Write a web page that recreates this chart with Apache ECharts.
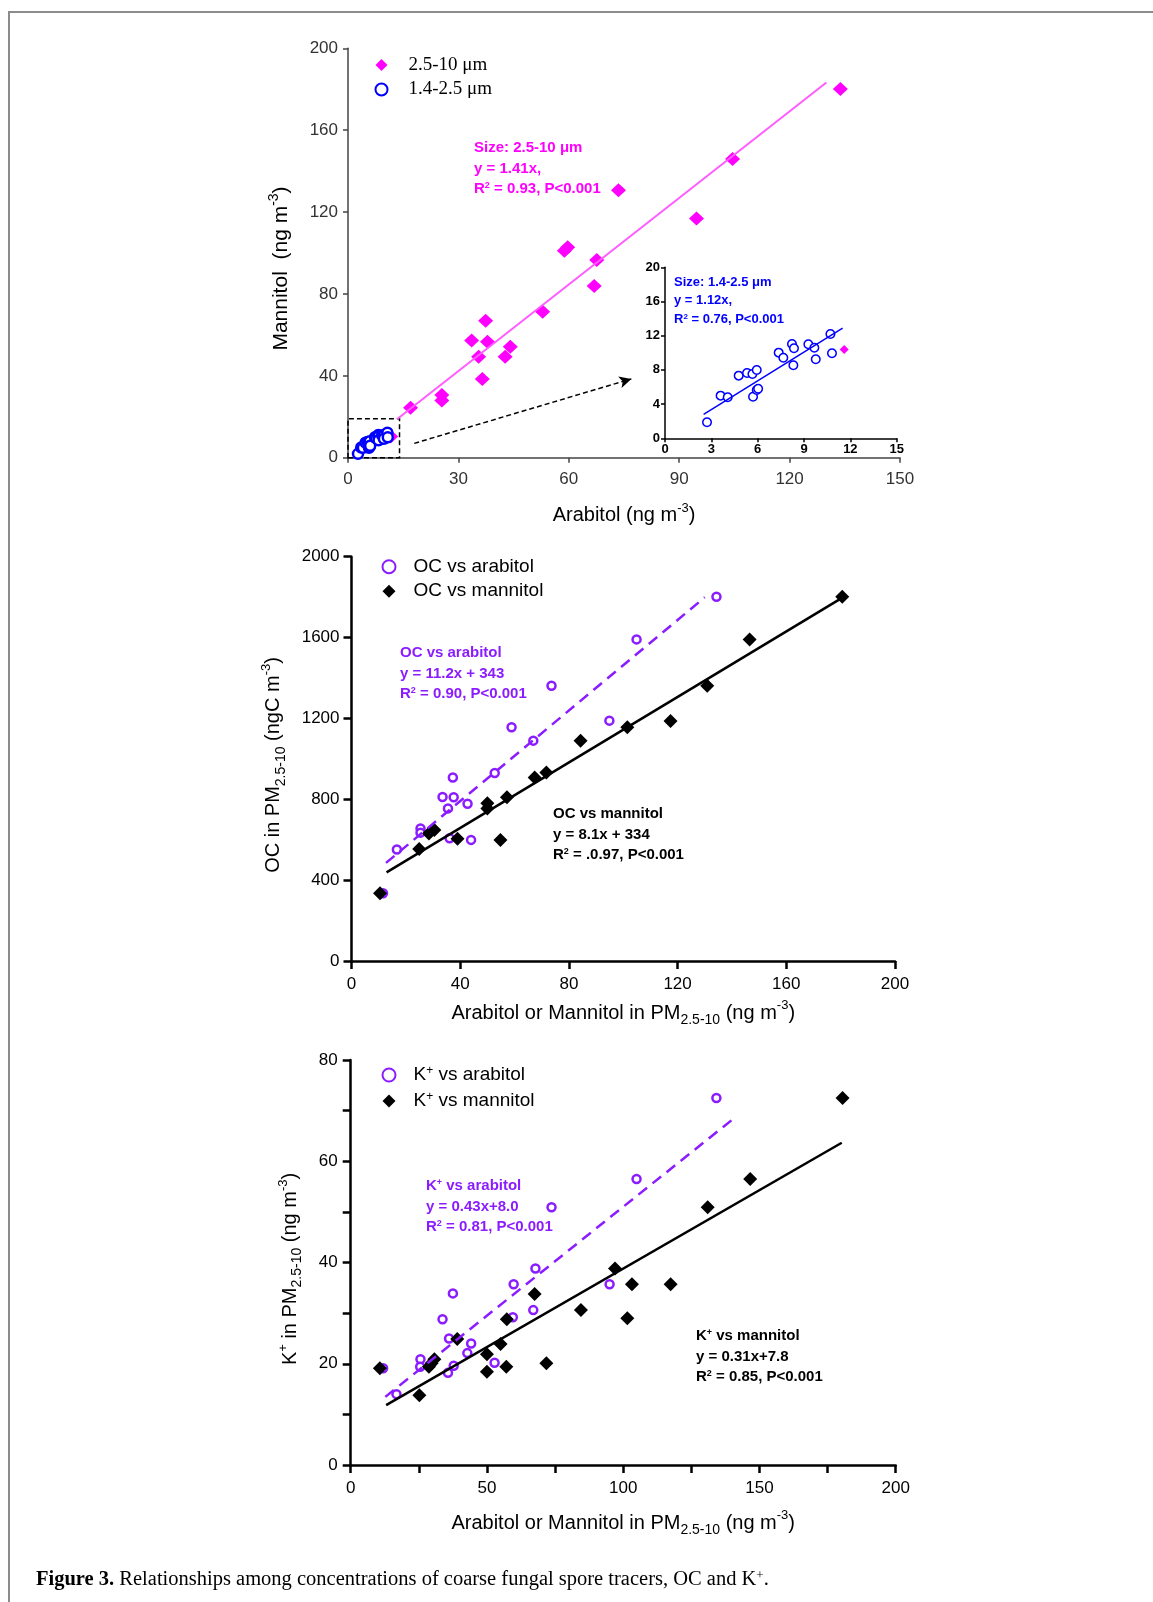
<!DOCTYPE html>
<html>
<head>
<meta charset="utf-8">
<title>Figure 3</title>
<script src="https://cdn.jsdelivr.net/npm/echarts@6/dist/echarts.min.js"></script>
<style>
  html, body { margin: 0; padding: 0; background: #fff; }
  #chart { width: 1153px; height: 1602px; }
</style>
</head>
<body>
<div id="chart"></div>
<script>
// ---- panel 1: arabitol vs mannitol by size ----
var coarseArabitol = [11.6, 17.0, 25.5, 25.5, 33.6, 35.5, 36.5, 37.4, 37.9, 42.7, 44.1, 52.9, 58.8, 59.7, 66.9, 67.6, 73.5, 94.7, 104.5, 133.8];
var coarseMannitol = [10.4, 24.4, 30.6, 27.9, 57.2, 49.3, 38.4, 66.9, 56.7, 49.3, 54.2, 71.3, 101.1, 102.8, 83.9, 96.6, 130.6, 116.9, 145.9, 180.1];
var fineArabitol = [2.72, 3.60, 4.06, 4.77, 5.31, 5.66, 5.94, 5.70, 5.94, 6.03, 7.36, 7.66, 8.22, 8.35, 8.31, 9.28, 9.67, 9.76, 10.71, 10.81];
var fineMannitol = [1.87, 4.99, 4.80, 7.33, 7.64, 7.52, 7.99, 4.87, 5.65, 5.80, 10.02, 9.43, 11.03, 10.53, 8.54, 10.99, 10.60, 9.24, 12.20, 9.94];

// ---- panel 2: OC in PM2.5-10 ----
var ocArabX = [11.6, 16.7, 25.4, 25.4, 36.1, 33.5, 35.5, 37.3, 37.6, 42.7, 44.0, 52.7, 58.9, 66.9, 73.6, 94.9, 104.9, 134.3];
var ocArabY = [335, 552, 656, 635, 607, 811, 755, 908, 810, 778, 599, 930, 1156, 1090, 1362, 1189, 1591, 1802];
var ocMannX = [10.5, 24.9, 28.5, 30.5, 39.0, 50.0, 50.0, 54.8, 57.2, 67.4, 71.7, 84.3, 101.5, 117.4, 130.9, 146.5, 180.6];
var ocMannY = [335, 554, 631, 648, 605, 780, 755, 599, 810, 908, 932, 1090, 1156, 1187, 1362, 1591, 1802];

// ---- panel 3: K+ in PM2.5-10 ----
var kArabX = [11.9, 16.8, 25.6, 25.5, 33.7, 36.1, 35.7, 37.5, 37.8, 42.8, 44.2, 52.8, 59.5, 59.8, 67.0, 67.8, 73.7, 95.0, 104.9, 134.2];
var kArabY = [19.1, 14.0, 20.9, 19.4, 28.8, 25.0, 18.2, 33.9, 19.6, 22.1, 24.0, 20.2, 29.2, 35.7, 30.6, 38.8, 50.9, 35.7, 56.5, 72.5];
var kMannX = [10.7, 25.2, 28.7, 29.7, 30.7, 39.1, 50.0, 50.0, 55.0, 57.3, 57.1, 67.5, 71.8, 84.5, 97.0, 101.5, 103.2, 117.4, 131.0, 146.6, 180.5];
var kMannY = [19.1, 13.8, 19.4, 20.1, 20.9, 24.9, 21.9, 18.4, 23.9, 28.8, 19.4, 33.8, 20.1, 30.6, 38.8, 29.0, 35.7, 35.7, 50.9, 56.5, 72.5];

// regression fits: [slope, intercept, x from, x to]
var fitCoarse = [1.41, 0, 13.3, 130];
var fitFine = [1.12, 0, 2.5, 11.5];
var fitOcArab = [11.2, 343, 12.7, 130];
var fitOcMann = [8.1, 334, 12.9, 180.8];
var fitKArab = [0.43, 8.0, 12.7, 140.4];
var fitKMann = [0.31, 7.8, 13.0, 180.2];

// zoomed region of panel 1 (data units) and the arrow pointing to the inset
var zoomBox = [[0, 0], [14, 19]];
var zoomArrow = [[18, 7], [77, 38.5]];

var ARIAL = "Arial, 'Liberation Sans', sans-serif";
var TIMES = "'Times New Roman', 'Liberation Serif', serif";
var MAGENTA = '#ff00ff';
var BLUE = '#0000ff';
var PURPLE = '#8b1cff';

function pairs(xs, ys) {
  return xs.map(function (x, i) { return [x, ys[i]]; });
}
function fitLine(f) {
  return [[f[2], f[0] * f[2] + f[1]], [f[3], f[0] * f[3] + f[1]]];
}

// rich styles for titles with super/subscripts (key = colour prop name)
function titleRich(size, colorKey) {
  var lh = Math.round(size * 1.4);
  function st(fs, l, va) {
    var s = { fontFamily: ARIAL, fontSize: fs, lineHeight: l };
    s[colorKey] = '#000';
    if (va) s.verticalAlign = va;
    return s;
  }
  return {
    t: st(size, lh),
    sup: st(Math.round(size * 0.65), Math.round(size * 0.55), 'top'),
    sub: st(Math.round(size * 0.7), Math.round(size * 0.65), 'bottom')
  };
}

function axis(grid, min, max, interval, o) {
  o = o || {};
  var color = o.color || '#000';
  return {
    type: 'value', gridIndex: grid, min: min, max: max, interval: interval,
    name: o.name || '', nameLocation: 'middle', nameGap: o.nameGap || 40,
    nameTextStyle: { rich: titleRich(20, 'color') },
    axisLine: { show: true, onZero: false, lineStyle: { color: color, width: o.lw || 2.5 } },
    axisTick: { show: true, inside: false, length: o.tick || 8, lineStyle: { color: color, width: o.lw || 2.5 } },
    minorTick: { show: !!o.minor, splitNumber: 2, length: o.tick || 8, lineStyle: { color: color, width: o.lw || 2.5 } },
    axisLabel: {
      color: o.labelColor || '#000', fontFamily: ARIAL, fontSize: o.fs || 17,
      fontWeight: o.bold ? 'bold' : 'normal', margin: o.margin || 12,
      formatter: function (v) { return String(v); }
    },
    splitLine: { show: false }
  };
}

// vertical axis title drawn centred on (x, y)
function yTitle(x, y, text, size) {
  return {
    type: 'text', x: x, y: y, rotation: Math.PI / 2, silent: true,
    style: {
      text: text, font: size + 'px ' + ARIAL, fill: '#000',
      align: 'center', verticalAlign: 'middle', rich: titleRich(size, 'fill')
    }
  };
}

function note(x, y, lines, color, size) {
  return lines.map(function (s, i) {
    return {
      type: 'text', x: x, y: y + i * (size + 5.5), silent: true,
      style: {
        text: s, fill: color, font: 'bold ' + size + 'px ' + ARIAL, verticalAlign: 'middle',
        rich: {
          s: { fontSize: Math.round(size * 0.6), fontWeight: 'bold', fontFamily: ARIAL, fill: color, lineHeight: 8, verticalAlign: 'top' }
        }
      }
    };
  });
}

var chart = echarts.init(document.getElementById('chart'));

var graphics = [
  { type: 'line', silent: true, shape: { x1: 9, y1: 12, x2: 9, y2: 1602 }, style: { stroke: '#8c8c8c', lineWidth: 2 } },
  { type: 'line', silent: true, shape: { x1: 8, y1: 12, x2: 1153, y2: 12 }, style: { stroke: '#8c8c8c', lineWidth: 2 } },
  yTitle(281.5, 268.5, '{t|Mannitol  (ng m}{sup|-3}{t|)}', 21),
  yTitle(273.7, 765, '{t|OC in PM}{sub|2.5-10}{t| (ngC m}{sup|-3}{t|)}', 20),
  yTitle(290.5, 1269, '{t|K}{sup|+}{t| in PM}{sub|2.5-10}{t| (ng m}{sup|-3}{t|)}', 20),
  {
    type: 'text', x: 36, y: 1580, silent: true,
    style: {
      text: '{b|Figure 3.} Relationships among concentrations of coarse fungal spore tracers, OC and K{s|+}.',
      fill: '#000', font: '20.5px ' + TIMES, verticalAlign: 'middle',
      rich: {
        b: { fontWeight: 'bold', fontSize: 20.5, fontFamily: TIMES, fill: '#000' },
        s: { fontSize: 13, fontFamily: TIMES, fill: '#000', lineHeight: 10, verticalAlign: 'top' }
      }
    }
  }
]
  .concat(note(474, 148, ['Size: 2.5-10 μm', 'y = 1.41x,', 'R{s|2} = 0.93, P<0.001'], MAGENTA, 15))
  .concat(note(674, 282, ['Size: 1.4-2.5 μm', 'y = 1.12x,', 'R{s|2} = 0.76, P<0.001'], BLUE, 13))
  .concat(note(400, 653, ['OC vs arabitol', 'y = 11.2x + 343', 'R{s|2} = 0.90, P<0.001'], PURPLE, 15))
  .concat(note(553, 814, ['OC vs mannitol', 'y = 8.1x + 334', 'R{s|2} = .0.97, P<0.001'], '#000', 15))
  .concat(note(426, 1186, ['K{s|+} vs arabitol', 'y = 0.43x+8.0', 'R{s|2} = 0.81, P<0.001'], PURPLE, 15))
  .concat(note(696, 1336, ['K{s|+} vs mannitol', 'y = 0.31x+7.8', 'R{s|2} = 0.85, P<0.001'], '#000', 15));

function legendText(family, pad) {
  return {
    fontFamily: family, fontSize: 19, color: '#000', lineHeight: 20, padding: [0, 0, 0, pad],
    rich: {
      a: { fontFamily: family, fontSize: 19, color: '#000', lineHeight: 20 },
      s: { fontFamily: family, fontSize: 12, color: '#000', lineHeight: 8, verticalAlign: 'top' }
    }
  };
}

var option = {
  animation: false,
  backgroundColor: '#fff',
  grid: [
    { left: 348, top: 48.3, width: 552, height: 409.4, outerBoundsMode: 'none' },
    { left: 665, top: 267.3, width: 231.7, height: 171, outerBoundsMode: 'none' },
    { left: 351.5, top: 556.7, width: 543.5, height: 404.3, outerBoundsMode: 'none' },
    { left: 350.7, top: 1060, width: 545, height: 405, outerBoundsMode: 'none' }
  ],
  xAxis: [
    axis(0, 0, 150, 30, { color: '#444', labelColor: '#333', lw: 1.5, tick: 5, margin: 13,
      name: '{t|Arabitol (ng m}{sup|-3}{t|)}', nameGap: 44 }),
    axis(1, 0, 15, 3, { lw: 1.5, tick: 4, fs: 13, bold: true, margin: 5 }),
    axis(2, 0, 200, 40, { margin: 15, name: '{t|Arabitol or Mannitol in PM}{sub|2.5-10}{t| (ng m}{sup|-3}{t|)}', nameGap: 38 }),
    axis(3, 0, 200, 50, { margin: 15, minor: true, name: '{t|Arabitol or Mannitol in PM}{sub|2.5-10}{t| (ng m}{sup|-3}{t|)}', nameGap: 44 })
  ],
  yAxis: [
    axis(0, 0, 200, 40, { color: '#444', labelColor: '#333', lw: 1.5, tick: 5, margin: 10 }),
    axis(1, 0, 20, 4, { lw: 1.5, tick: 4, fs: 13, bold: true, margin: 5 }),
    axis(2, 0, 2000, 400, { margin: 12 }),
    axis(3, 0, 80, 20, { margin: 13, minor: true })
  ],
  legend: [
    {
      orient: 'vertical', left: 374.5, top: 55, padding: 0, itemWidth: 12, itemHeight: 12, itemGap: 4.5,
      data: ['2.5-10 μm', '1.4-2.5 μm'], textStyle: legendText(TIMES, 16),
      formatter: function (n) { return '{a|' + n + '}'; }
    },
    {
      orient: 'vertical', left: 381.5, top: 556.7, padding: 0, itemWidth: 13, itemHeight: 13, itemGap: 4.5,
      data: ['OC vs arabitol', 'OC vs mannitol'], textStyle: legendText(ARIAL, 13),
      formatter: function (n) { return '{a|' + n + '}'; }
    },
    {
      orient: 'vertical', left: 381.5, top: 1065, padding: 0, itemWidth: 13, itemHeight: 13, itemGap: 6,
      data: ['K+ vs arabitol', 'K+ vs mannitol'], textStyle: legendText(ARIAL, 13),
      formatter: function (n) { return '{a|K}{s|+}{a|' + n.slice(2) + '}'; }
    }
  ],
  graphic: graphics,
  series: [
    // panel 1
    {
      name: 'fit 2.5-10', type: 'line', xAxisIndex: 0, yAxisIndex: 0, data: fitLine(fitCoarse),
      symbol: 'none', silent: true, lineStyle: { color: '#ff5cff', width: 2 }
    },
    {
      name: '2.5-10 μm', type: 'scatter', xAxisIndex: 0, yAxisIndex: 0,
      data: pairs(coarseArabitol, coarseMannitol),
      symbol: 'diamond', symbolSize: [15, 14], itemStyle: { color: MAGENTA, opacity: 1 },
      markArea: {
        silent: true,
        itemStyle: { color: 'rgba(0,0,0,0)', borderColor: '#000', borderWidth: 1.5, borderType: [5, 3] },
        data: [[{ coord: zoomBox[0] }, { coord: zoomBox[1] }]]
      },
      markLine: {
        silent: true, symbol: ['none', 'arrow'], symbolSize: [9, 12],
        label: { show: false },
        lineStyle: { color: '#000', width: 1.5, type: [5, 3] },
        data: [[{ coord: zoomArrow[0] }, { coord: zoomArrow[1] }]]
      }
    },
    {
      name: '1.4-2.5 μm', type: 'scatter', xAxisIndex: 0, yAxisIndex: 0,
      data: pairs(fineArabitol, fineMannitol),
      symbol: 'circle', symbolSize: 10,
      itemStyle: { color: '#fff', borderColor: BLUE, borderWidth: 2.5, opacity: 1 }
    },
    // inset
    {
      name: 'fit 1.4-2.5', type: 'line', xAxisIndex: 1, yAxisIndex: 1, data: fitLine(fitFine),
      symbol: 'none', silent: true, lineStyle: { color: BLUE, width: 1.5 }
    },
    {
      name: 'inset 1.4-2.5', type: 'scatter', xAxisIndex: 1, yAxisIndex: 1,
      data: pairs(fineArabitol, fineMannitol),
      symbol: 'circle', symbolSize: 8.5,
      itemStyle: { color: '#fff', borderColor: BLUE, borderWidth: 1.5, opacity: 1 }
    },
    {
      name: 'inset 2.5-10', type: 'scatter', xAxisIndex: 1, yAxisIndex: 1,
      data: pairs(coarseArabitol, coarseMannitol).filter(function (p) { return p[0] <= 15 && p[1] <= 20; }),
      symbol: 'diamond', symbolSize: 9, itemStyle: { color: MAGENTA, opacity: 1 }
    },
    // panel 2
    {
      name: 'fit OC arab', type: 'line', xAxisIndex: 2, yAxisIndex: 2, data: fitLine(fitOcArab),
      symbol: 'none', silent: true, lineStyle: { color: PURPLE, width: 2.5, type: [11, 7] }
    },
    {
      name: 'fit OC mann', type: 'line', xAxisIndex: 2, yAxisIndex: 2, data: fitLine(fitOcMann),
      symbol: 'none', silent: true, lineStyle: { color: '#000', width: 2.5 }
    },
    {
      name: 'OC vs arabitol', type: 'scatter', xAxisIndex: 2, yAxisIndex: 2,
      data: pairs(ocArabX, ocArabY), symbol: 'circle', symbolSize: 8,
      itemStyle: { color: '#fff', borderColor: PURPLE, borderWidth: 2.5, opacity: 1 }
    },
    {
      name: 'OC vs mannitol', type: 'scatter', xAxisIndex: 2, yAxisIndex: 2,
      data: pairs(ocMannX, ocMannY), symbol: 'diamond', symbolSize: 14,
      itemStyle: { color: '#000', opacity: 1 }
    },
    // panel 3
    {
      name: 'fit K arab', type: 'line', xAxisIndex: 3, yAxisIndex: 3, data: fitLine(fitKArab),
      symbol: 'none', silent: true, lineStyle: { color: PURPLE, width: 2.5, type: [11, 7] }
    },
    {
      name: 'fit K mann', type: 'line', xAxisIndex: 3, yAxisIndex: 3, data: fitLine(fitKMann),
      symbol: 'none', silent: true, lineStyle: { color: '#000', width: 2.5 }
    },
    {
      name: 'K+ vs arabitol', type: 'scatter', xAxisIndex: 3, yAxisIndex: 3,
      data: pairs(kArabX, kArabY), symbol: 'circle', symbolSize: 8,
      itemStyle: { color: '#fff', borderColor: PURPLE, borderWidth: 2.5, opacity: 1 }
    },
    {
      name: 'K+ vs mannitol', type: 'scatter', xAxisIndex: 3, yAxisIndex: 3,
      data: pairs(kMannX, kMannY), symbol: 'diamond', symbolSize: 14,
      itemStyle: { color: '#000', opacity: 1 }
    }
  ]
};

chart.setOption(option);
</script>
</body>
</html>
